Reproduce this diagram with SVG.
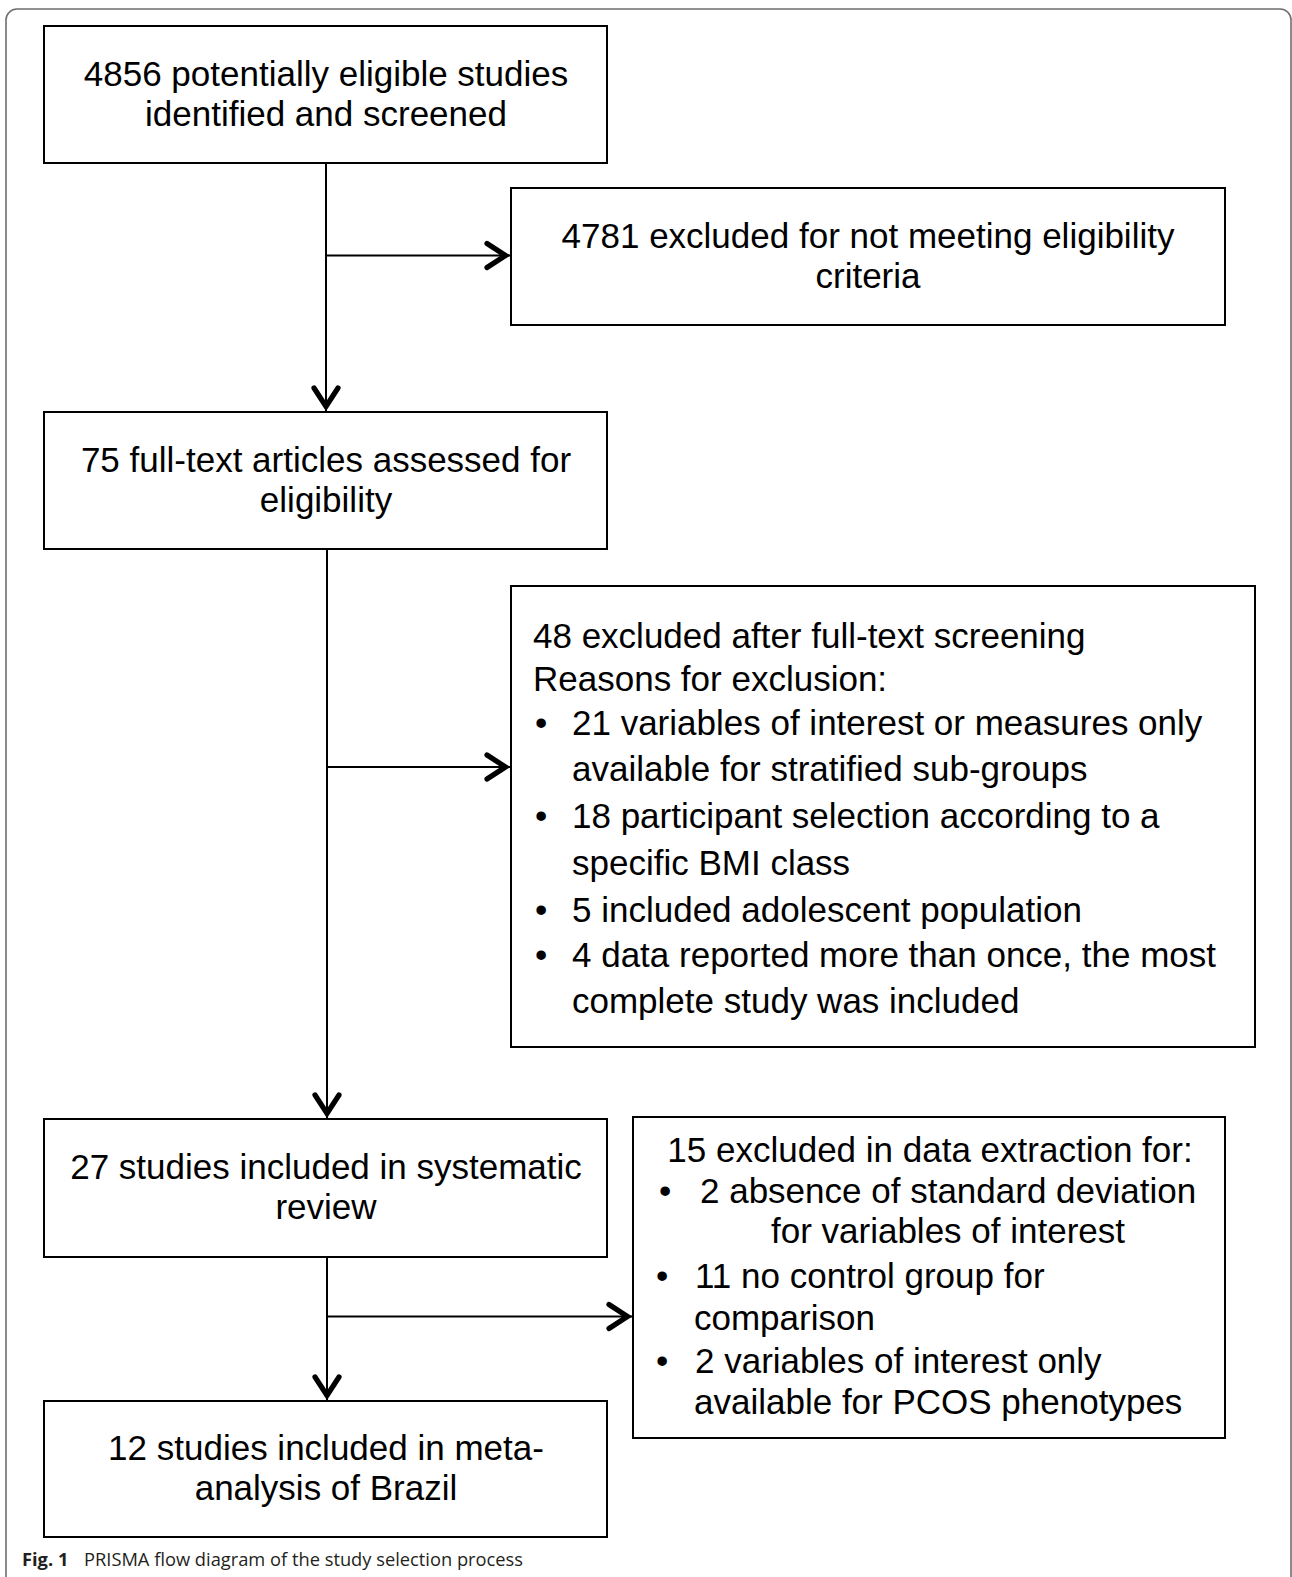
<svg xmlns="http://www.w3.org/2000/svg" width="1292" height="1577" viewBox="0 0 1292 1577">
  <style>
    .box { fill: #ffffff; stroke: #000000; stroke-width: 2; }
    .t { font-family: "Liberation Sans", Arial, sans-serif; font-size: 35px; fill: #000000; }
    .c { text-anchor: middle; }
    .conn { fill: none; stroke: #000000; stroke-width: 2; }
    .cap { font-family: "Open Sans", "Noto Sans", sans-serif; font-size: 18.3px; fill: #231f20; }
  </style>
  <defs>
    <marker id="arrow" markerUnits="userSpaceOnUse" viewBox="-30 -16 32 32" markerWidth="32" markerHeight="32" refX="0" refY="0" orient="auto">
      <path d="M -23 -12 L -4.5 0 L -23 12" fill="none" stroke="#000000" stroke-width="5.2" stroke-linecap="round" stroke-linejoin="miter"/>
    </marker>
  </defs>
  <rect x="0" y="0" width="1292" height="1577" fill="#ffffff"/>
  <path id="frame" d="M 6 1577 V 20 A 11 11 0 0 1 17 9 H 1280 A 11 11 0 0 1 1291 20 V 1577" fill="none" stroke="#6e6e6e" stroke-width="1.6"/>

  <g id="connectors">
    <path class="conn" d="M 326 163 V 411" marker-end="url(#arrow)"/>
    <path class="conn" d="M 326 255.5 H 510" marker-end="url(#arrow)"/>
    <path class="conn" d="M 327 549 V 1118" marker-end="url(#arrow)"/>
    <path class="conn" d="M 327 767 H 510" marker-end="url(#arrow)"/>
    <path class="conn" d="M 327 1257 V 1400" marker-end="url(#arrow)"/>
    <path class="conn" d="M 328 1316.5 H 632" marker-end="url(#arrow)"/>
  </g>

  <g id="node-identified">
    <rect class="box" x="44" y="26" width="563" height="137"/>
    <text class="t c" x="326" y="86">4856 potentially eligible studies</text>
    <text class="t c" x="326" y="126">identified and screened</text>
  </g>

  <g id="node-excluded-4781">
    <rect class="box" x="511" y="188" width="714" height="137"/>
    <text class="t c" x="868" y="248">4781 excluded for not meeting eligibility</text>
    <text class="t c" x="868" y="288">criteria</text>
  </g>

  <g id="node-fulltext">
    <rect class="box" x="44" y="412" width="563" height="137"/>
    <text class="t c" x="326" y="472">75 full-text articles assessed for</text>
    <text class="t c" x="326" y="512">eligibility</text>
  </g>

  <g id="node-excluded-48">
    <rect class="box" x="511" y="586" width="744" height="461"/>
    <text class="t" x="533" y="648">48 excluded after full-text screening</text>
    <text class="t" x="533" y="691">Reasons for exclusion:</text>
    <text class="t" x="535" y="735">•</text>
    <text class="t" x="572" y="735">21 variables of interest or measures only</text>
    <text class="t" x="572" y="781">available for stratified sub-groups</text>
    <text class="t" x="535" y="828">•</text>
    <text class="t" x="572" y="828">18 participant selection according to a</text>
    <text class="t" x="572" y="875">specific BMI class</text>
    <text class="t" x="535" y="922">•</text>
    <text class="t" x="572" y="922">5 included adolescent population</text>
    <text class="t" x="535" y="967">•</text>
    <text class="t" x="572" y="967">4 data reported more than once, the most</text>
    <text class="t" x="572" y="1013">complete study was included</text>
  </g>

  <g id="node-systematic">
    <rect class="box" x="44" y="1119" width="563" height="138"/>
    <text class="t c" x="326" y="1179">27 studies included in systematic</text>
    <text class="t c" x="326" y="1219">review</text>
  </g>

  <g id="node-excluded-15">
    <rect class="box" x="633" y="1117" width="592" height="321"/>
    <text class="t c" x="930" y="1162">15 excluded in data extraction for:</text>
    <text class="t" x="659" y="1203">•</text>
    <text class="t" x="700" y="1203">2 absence of standard deviation</text>
    <text class="t c" x="948" y="1243">for variables of interest</text>
    <text class="t" x="656" y="1288">•</text>
    <text class="t" x="695" y="1288">11 no control group for</text>
    <text class="t" x="694" y="1330">comparison</text>
    <text class="t" x="656" y="1373">•</text>
    <text class="t" x="695" y="1373">2 variables of interest only</text>
    <text class="t" x="694" y="1414">available for PCOS phenotypes</text>
  </g>

  <g id="node-meta">
    <rect class="box" x="44" y="1401" width="563" height="136"/>
    <text class="t c" x="326" y="1460">12 studies included in meta-</text>
    <text class="t c" x="326" y="1500">analysis of Brazil</text>
  </g>

  <g id="caption">
    <text class="cap" x="22" y="1566" font-weight="bold" font-size="20px">Fig. 1</text>
    <text class="cap" x="84" y="1566">PRISMA flow diagram of the study selection process</text>
  </g>
</svg>
